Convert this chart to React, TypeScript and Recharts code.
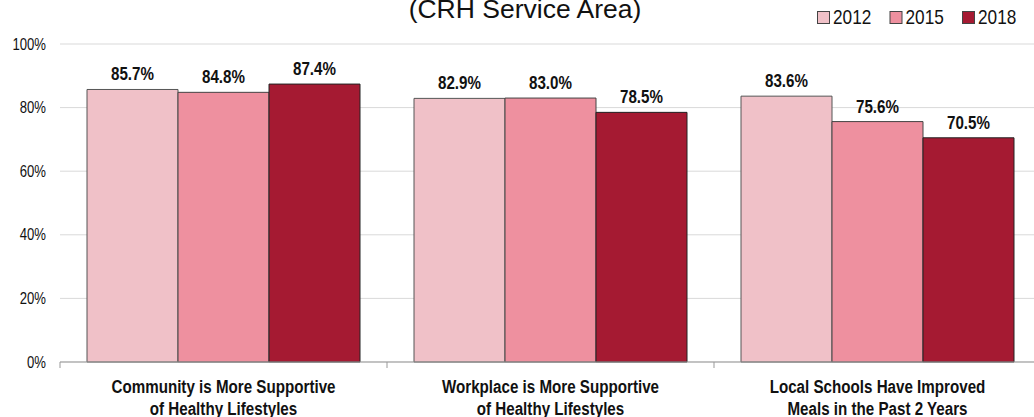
import React from "react";
import {
  BarChart,
  Bar,
  XAxis,
  YAxis,
  CartesianGrid,
  LabelList,
} from "recharts";

const categories = [
  ["Community is More Supportive", "of Healthy Lifestyles"],
  ["Workplace is More Supportive", "of Healthy Lifestyles"],
  ["Local Schools Have Improved", "Meals in the Past 2 Years"],
];
const years = ["2012", "2015", "2018"];
const values2012 = [85.7, 82.9, 83.6];
const values2015 = [84.8, 83.0, 75.6];
const values2018 = [87.4, 78.5, 70.5];
const yTicks = [0, 20, 40, 60, 80, 100];

const colors = ["#F0C1C8", "#EE909F", "#A51A32"];
const strokes = ["#555", "#444", "#222"];
const FONT = "'Liberation Sans', Arial, sans-serif";
// no Arial Narrow installed: squeeze Liberation Sans horizontally instead
const SQUEEZE = 0.82;

const CHART_W = 1042;
const PLOT_LEFT = 60;
const BAND = (CHART_W - 1 - PLOT_LEFT) / categories.length;

const data = categories.map((c, i) => ({
  name: c.join("\n"),
  y2012: values2012[i],
  y2015: values2015[i],
  y2018: values2018[i],
}));
const keys = ["y2012", "y2015", "y2018"];

function Narrow({ x, y, anchor = "middle", size, bold, children }: any) {
  return (
    <g transform={`translate(${x},${y}) scale(${SQUEEZE},1)`}>
      <text
        x={0}
        y={0}
        textAnchor={anchor}
        fontFamily={FONT}
        fontWeight={bold ? "bold" : "normal"}
        fontSize={size}
        fill="#111"
      >
        {children}
      </text>
    </g>
  );
}

function CategoryTick(props: any) {
  const { x, y, payload, index } = props;
  const lines = String(payload.value).split("\n");
  return (
    <g>
      <line x1={x - BAND / 2} x2={x - BAND / 2} y1={y - 8} y2={y - 2} stroke="#999" />
      {index === categories.length - 1 && (
        <line x1={x + BAND / 2} x2={x + BAND / 2} y1={y - 8} y2={y - 2} stroke="#999" />
      )}
      {lines.map((l, i) => (
        <Narrow key={i} x={x} y={y + 23 + i * 21.5} size={18.5} bold>
          {l}
        </Narrow>
      ))}
    </g>
  );
}

function PercentTick(props: any) {
  const { x, y, payload } = props;
  return (
    <Narrow x={x} y={y + 5.5} anchor="end" size={16}>
      {`${payload.value}%`}
    </Narrow>
  );
}

function ValueLabel(props: any) {
  const { x, y, width, value } = props;
  return (
    <Narrow x={x + width / 2} y={y - 9} size={18.5} bold>
      {`${Number(value).toFixed(1)}%`}
    </Narrow>
  );
}

export default function App() {
  return (
    <div style={{ position: "relative", width: 1034, height: 417, overflow: "hidden" }}>
      <style>{"html,body{margin:0;padding:0;overflow:hidden}"}</style>
      <BarChart
        width={CHART_W}
        height={417}
        data={data}
        margin={{ top: 44, right: 1, left: 0, bottom: 0 }}
        barCategoryGap={27}
        barGap={0}
      >
        <CartesianGrid vertical={false} stroke="#d9d9d9" />
        <XAxis
          dataKey="name"
          axisLine={{ stroke: "#999" }}
          tickLine={false}
          height={55}
          interval={0}
          tick={<CategoryTick />}
        />
        <YAxis
          width={PLOT_LEFT}
          domain={[0, 100]}
          ticks={yTicks}
          axisLine={false}
          tickLine={false}
          tickMargin={8}
          tick={<PercentTick />}
        />
        {keys.map((k, i) => (
          <Bar
            key={k}
            dataKey={k}
            fill={colors[i]}
            stroke={strokes[i]}
            strokeWidth={1}
            isAnimationActive={false}
          >
            <LabelList dataKey={k} content={<ValueLabel />} />
          </Bar>
        ))}
      </BarChart>
      <svg
        width={1034}
        height={40}
        style={{ position: "absolute", left: 0, top: 0, pointerEvents: "none" }}
      >
        <text x={525} y={18} textAnchor="middle" fontFamily={FONT} fontSize={26.5} fill="#111">
          (CRH Service Area)
        </text>
        {years.map((yr, i) => (
          <g key={yr}>
            <rect x={817.5 + i * 72.5} y={11.5} width={12} height={12} fill={colors[i]} stroke="#444" />
            <Narrow x={833 + i * 72.5} y={24} anchor="start" size={21}>
              {yr}
            </Narrow>
          </g>
        ))}
      </svg>
    </div>
  );
}
